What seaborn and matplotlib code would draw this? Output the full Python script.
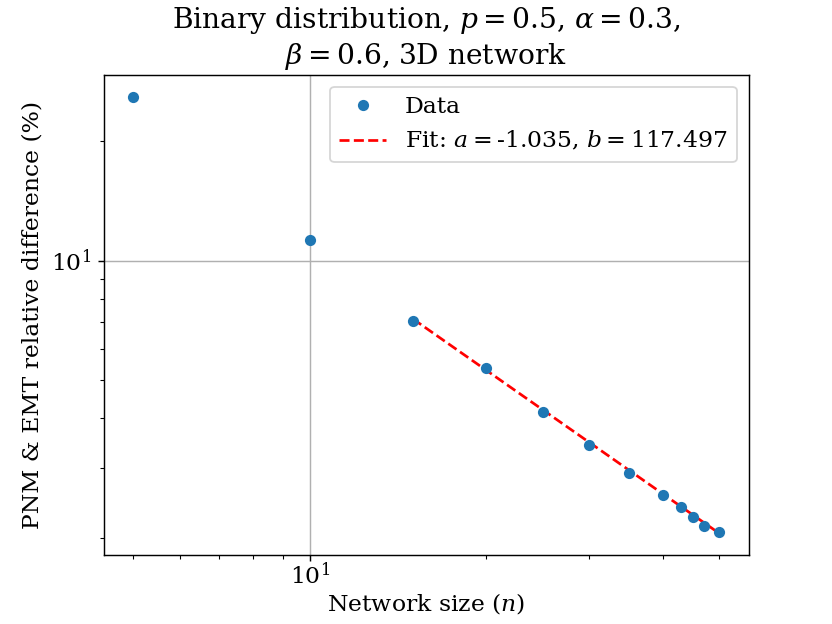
import numpy as np
import matplotlib
matplotlib.use("Agg")
import matplotlib.pyplot as plt
import seaborn as sns

# network sizes and relative difference (%)
network_size = [5, 10, 15, 20, 25, 30, 35, 40, 43, 45, 47, 50]
rel_diff = [25.9, 11.24, 7.04, 5.35, 4.15, 3.43, 2.92, 2.57, 2.39, 2.25, 2.14, 2.07]

# power-law fit y = b * n^a, fitted on n >= 15
fit_a = -1.035
fit_b = 117.497
fit_n = np.array([15, 20, 25, 30, 35, 40, 43, 45, 47, 50])

plt.rcParams['font.family'] = ['DejaVu Serif']
plt.rcParams['mathtext.fontset'] = 'dejavuserif'
plt.rcParams['font.size'] = 13

fig, ax = plt.subplots(figsize=(6.4, 4.8), dpi=130)

sns.lineplot(x=network_size, y=rel_diff, ax=ax, color='#1f77b4', marker='o',
             markersize=6.2, markeredgewidth=0, linestyle='', sort=False,
             label='Data', zorder=3)
sns.lineplot(x=fit_n, y=fit_b * fit_n ** fit_a, ax=ax, color='red', linestyle='--',
             label=f'Fit: $a = ${fit_a:.3f}, $b = ${fit_b:.3f}', zorder=2)

ax.set_xscale('log')
ax.set_yscale('log')
ax.grid(True, which='major', color='#b0b0b0', linewidth=0.8)
ax.tick_params(axis='x', which='major', pad=0.5)
ax.set_xlabel('Network size ($n$)', labelpad=1)
ax.set_ylabel('PNM & EMT relative difference (%)')
ax.set_title('Binary distribution, $p = 0.5$, $\\alpha = 0.3$,\n$\\beta = 0.6$, 3D network')
ax.legend(loc='upper right')

fig.savefig('out.png')
